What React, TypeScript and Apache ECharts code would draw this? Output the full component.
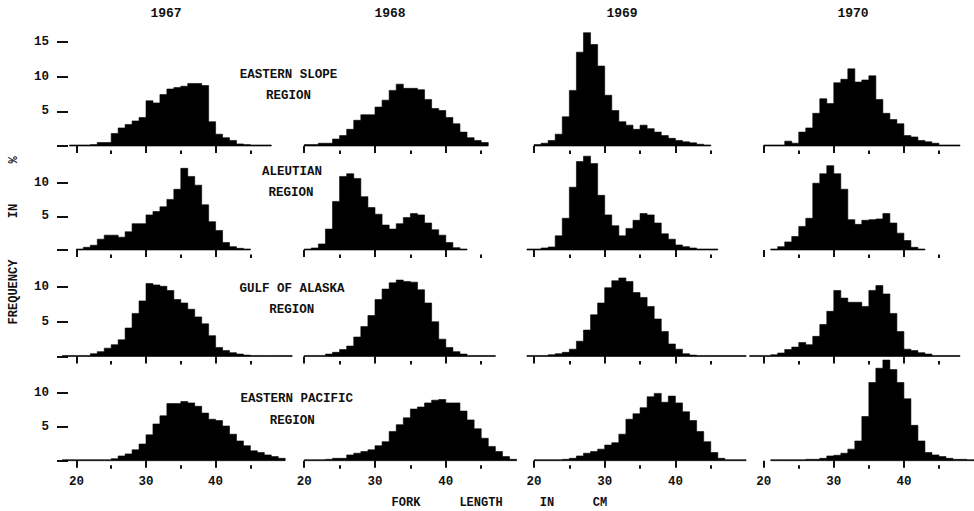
import { useEffect, useRef } from "react";
import * as echarts from "echarts";

// Column headings and region captions
const years = ["1967", "1968", "1969", "1970"];
const regionNames = [
  ["EASTERN SLOPE", "REGION"],
  ["ALEUTIAN", "REGION"],
  ["GULF OF ALASKA", "REGION"],
  ["EASTERN PACIFIC", "REGION"],
];

// Percent frequency per 1-cm fork-length class; *From is the lower edge (cm) of the first class.
const easternSlope1967From = 19;
const easternSlope1967 = [0.15, 0.15, 0.15, 0.2, 0.5, 0.5, 1.8, 2.6, 3.1, 3.6, 4.1, 6.5, 6.2, 7.4, 8.2, 8.4, 8.6, 9.0, 9.0, 8.7, 3.5, 1.7, 1.2, 0.8, 0.3, 0.2, 0.15, 0.15, 0.15];
const easternSlope1968From = 20;
const easternSlope1968 = [0.2, 0.2, 0.4, 0.4, 1.0, 1.5, 2.4, 3.7, 4.5, 4.5, 5.6, 6.6, 8.0, 8.9, 8.3, 8.3, 8.1, 6.7, 5.4, 5.1, 4.1, 3.2, 2.0, 1.2, 0.8, 0.5];
const easternSlope1969From = 20;
const easternSlope1969 = [0.2, 0.4, 0.8, 1.7, 4.2, 8.0, 13.5, 16.3, 14.6, 11.5, 7.3, 5.1, 3.5, 3.0, 2.4, 3.0, 2.5, 2.0, 1.5, 1.1, 0.8, 0.6, 0.45, 0.25, 0.15];
const easternSlope1970From = 20;
const easternSlope1970 = [0.15, 0.15, 0.15, 0.7, 0.4, 2.0, 2.6, 4.7, 6.8, 6.1, 9.1, 9.6, 11.1, 9.2, 9.5, 10.1, 6.7, 4.7, 3.8, 3.2, 1.5, 1.3, 0.8, 0.6, 0.4, 0.15, 0.15, 0.15];

const aleutian1967From = 20;
const aleutian1967 = [0.15, 0.4, 0.7, 1.6, 2.2, 2.2, 1.9, 2.7, 3.9, 3.9, 5.2, 5.7, 6.4, 7.5, 9.0, 12.1, 10.9, 9.6, 6.7, 4.2, 2.9, 1.1, 0.5, 0.25, 0.15];
const aleutian1968From = 20;
const aleutian1968 = [0.15, 0.3, 0.9, 3.1, 7.2, 10.9, 11.3, 10.6, 7.9, 6.3, 5.3, 3.7, 3.1, 3.9, 4.8, 5.4, 5.2, 4.0, 3.0, 2.2, 1.1, 0.35, 0.15];
const aleutian1969From = 19;
const aleutian1969 = [0.15, 0.15, 0.3, 0.45, 2.1, 4.7, 9.3, 13.1, 13.9, 12.8, 8.1, 5.2, 3.6, 2.1, 3.2, 4.4, 5.4, 5.2, 4.0, 2.4, 1.6, 0.75, 0.5, 0.3, 0.15, 0.15, 0.15];
const aleutian1970From = 21;
const aleutian1970 = [0.15, 0.5, 1.2, 2.0, 3.5, 4.7, 9.9, 11.3, 12.5, 11.3, 9.0, 4.5, 3.8, 4.4, 4.5, 4.6, 5.4, 4.0, 2.5, 1.4, 0.4, 0.15];

const gulfOfAlaska1967From = 18;
const gulfOfAlaska1967 = [0.15, 0.15, 0.15, 0.15, 0.4, 0.7, 1.2, 1.7, 2.4, 4.1, 6.2, 8.0, 10.5, 10.3, 10.1, 9.5, 8.2, 7.7, 6.8, 5.7, 4.7, 3.0, 1.3, 0.85, 0.55, 0.35, 0.2, 0.15, 0.15, 0.15, 0.15, 0.15, 0.15];
const gulfOfAlaska1968From = 20;
const gulfOfAlaska1968 = [0.15, 0.15, 0.15, 0.35, 0.6, 1.0, 1.5, 2.8, 4.3, 5.9, 8.2, 9.7, 10.6, 11.0, 10.8, 10.7, 9.6, 7.7, 5.0, 2.5, 1.3, 0.7, 0.35, 0.15, 0.15, 0.15, 0.15];
const gulfOfAlaska1969From = 19;
const gulfOfAlaska1969 = [0.15, 0.15, 0.15, 0.25, 0.4, 0.6, 1.05, 2.2, 3.8, 6.0, 7.7, 9.9, 10.9, 11.3, 10.8, 9.2, 8.5, 7.2, 5.4, 3.6, 1.8, 1.05, 0.4, 0.2, 0.15, 0.15, 0.15, 0.15, 0.15, 0.15, 0.15];
const gulfOfAlaska1970From = 18;
const gulfOfAlaska1970 = [0.15, 0.15, 0.15, 0.25, 0.5, 1.0, 1.35, 2.0, 1.7, 2.9, 4.6, 6.5, 9.5, 8.4, 7.8, 7.8, 7.2, 9.5, 10.2, 9.0, 6.2, 3.6, 1.05, 0.85, 0.55, 0.35, 0.15, 0.15, 0.15, 0.15];

const easternPacific1967From = 18;
const easternPacific1967 = [0.15, 0.15, 0.15, 0.15, 0.15, 0.15, 0.15, 0.3, 0.7, 1.0, 1.6, 2.45, 3.8, 5.4, 6.6, 8.4, 8.4, 8.7, 8.5, 8.0, 7.0, 6.1, 5.9, 5.1, 3.9, 2.9, 2.2, 1.45, 1.2, 0.85, 0.6, 0.35];
const easternPacific1968From = 20;
const easternPacific1968 = [0.15, 0.15, 0.15, 0.2, 0.35, 0.35, 0.85, 1.1, 1.35, 1.6, 2.2, 2.8, 4.3, 5.3, 6.3, 7.6, 7.9, 8.5, 8.9, 9.0, 8.5, 8.5, 7.3, 6.0, 4.7, 3.3, 2.1, 1.35, 0.6, 0.2];
const easternPacific1969From = 20;
const easternPacific1969 = [0.15, 0.15, 0.15, 0.15, 0.2, 0.35, 0.7, 1.1, 1.35, 1.7, 2.3, 2.65, 3.9, 6.1, 6.9, 7.8, 9.4, 9.9, 8.6, 9.5, 8.5, 7.2, 5.9, 4.3, 2.8, 1.2, 0.35, 0.15, 0.15, 0.15];
const easternPacific1970From = 21;
const easternPacific1970 = [0.15, 0.15, 0.15, 0.15, 0.15, 0.2, 0.2, 0.35, 0.7, 0.8, 1.1, 1.7, 2.9, 6.5, 11.5, 13.6, 14.8, 13.4, 11.5, 9.1, 5.2, 2.9, 1.2, 0.85, 0.6, 0.35, 0.2, 0.2, 0.15];

// Axis ticks (cm and percent)
const majorLengthTicks = [20, 30, 40];
const minorLengthTicks = [25, 35, 45];
const rowPercentTicks = [
  [0, 5, 10, 15],
  [0, 5, 10],
  [0, 5, 10],
  [0, 5, 10],
];
const rowPercentLabels = [
  [5, 10, 15],
  [5, 10],
  [5, 10],
  [5, 10],
];

const panels: [number, number[]][][] = [
  [
    [easternSlope1967From, easternSlope1967],
    [easternSlope1968From, easternSlope1968],
    [easternSlope1969From, easternSlope1969],
    [easternSlope1970From, easternSlope1970],
  ],
  [
    [aleutian1967From, aleutian1967],
    [aleutian1968From, aleutian1968],
    [aleutian1969From, aleutian1969],
    [aleutian1970From, aleutian1970],
  ],
  [
    [gulfOfAlaska1967From, gulfOfAlaska1967],
    [gulfOfAlaska1968From, gulfOfAlaska1968],
    [gulfOfAlaska1969From, gulfOfAlaska1969],
    [gulfOfAlaska1970From, gulfOfAlaska1970],
  ],
  [
    [easternPacific1967From, easternPacific1967],
    [easternPacific1968From, easternPacific1968],
    [easternPacific1969From, easternPacific1969],
    [easternPacific1970From, easternPacific1970],
  ],
];

// Layout
const W = 974;
const H = 511;
const X_MIN = 18;
const X_MAX = 51;
const colAt20 = [76.4, 304.2, 534, 763.7];
const colPxPerCm = [6.96, 7.08, 7.07, 7.01];
const rowBase = [146, 250, 356.5, 460.7];
const rowPxPerPct = [6.95, 6.75, 6.95, 6.8];
const rowMax = [17, 15, 13, 16];

const INK = "#111";
const MONO = "'Liberation Mono', 'DejaVu Sans Mono', monospace";

function buildOption() {
  const grid: any[] = [];
  const xAxis: any[] = [];
  const yAxis: any[] = [];
  const series: any[] = [];

  for (let r = 0; r < 4; r++) {
    for (let c = 0; c < 4; c++) {
      const i = r * 4 + c;
      const ppc = colPxPerCm[c];
      const h = rowPxPerPct[r] * rowMax[r];
      grid.push({
        left: colAt20[c] - (20 - X_MIN) * ppc,
        top: rowBase[r] - h,
        width: (X_MAX - X_MIN) * ppc,
        height: h,
        containLabel: false,
        outerBoundsMode: "none",
      });
      const common = {
        type: "value",
        gridIndex: i,
        min: X_MIN,
        max: X_MAX,
        position: "bottom",
        offset: 4.5,
        axisLine: { show: false },
        splitLine: { show: false },
      };
      xAxis.push({
        ...common,
        axisTick: {
          show: true,
          customValues: majorLengthTicks,
          length: 7,
          lineStyle: { color: INK, width: 2 },
        },
        axisLabel: {
          show: r === 3,
          customValues: majorLengthTicks,
          margin: 10,
          color: INK,
          fontFamily: MONO,
          fontWeight: "bold",
          fontSize: 12.5,
        },
      });
      xAxis.push({
        ...common,
        axisTick: {
          show: true,
          customValues: minorLengthTicks,
          length: 3.5,
          lineStyle: { color: INK, width: 2 },
        },
        axisLabel: { show: false },
      });
      yAxis.push({
        type: "value",
        gridIndex: i,
        min: 0,
        max: rowMax[r],
        show: c === 0,
        offset: -5.5,
        axisLine: { show: false },
        splitLine: { show: false },
        axisTick: {
          show: true,
          customValues: rowPercentTicks[r],
          length: 11,
          lineStyle: { color: INK, width: 2 },
        },
        axisLabel: {
          customValues: rowPercentLabels[r],
          margin: 19,
          color: INK,
          fontFamily: MONO,
          fontWeight: "bold",
          fontSize: 12.5,
        },
      });

      const [from, values] = panels[r][c];
      series.push({
        type: "custom",
        xAxisIndex: i * 2,
        yAxisIndex: i,
        clip: false,
        encode: { x: 0, y: 1 },
        data: values.map((v, k) => [from + k, v]),
        // The whole histogram is traced as one stepped outline (drawn with the
        // first class) so that adjoining classes form a single solid shape.
        renderItem: (params: any, api: any) => {
          if (params.dataIndex !== 0) return null;
          const n = values.length;
          const pts: number[][] = [api.coord([from, 0])];
          for (let k = 0; k < n; k++) {
            const lo = api.value(0, k);
            const v = api.value(1, k);
            pts.push(api.coord([lo, v]));
            pts.push(api.coord([lo + 1, v]));
          }
          pts.push(api.coord([from + n, 0]));
          return {
            type: "polygon",
            shape: { points: pts },
            style: { fill: "#000", stroke: "#000", lineWidth: 0.6, lineJoin: "miter" },
          };
        },
      });
    }
  }

  const textStyle = (text: string, size = 12) => ({
    text,
    fill: INK,
    fontFamily: MONO,
    fontWeight: "bold",
    fontSize: size,
    align: "center",
    verticalAlign: "middle",
  });

  const yearX = [166, 390, 622, 853];
  const captionPos = [
    [[288.5, 75], [288.5, 96]],
    [[292, 171.5], [291, 192.5]],
    [[292, 289.3], [291.7, 310]],
    [[296.7, 399.3], [292.3, 420.7]],
  ];

  const graphic: any[] = [];
  years.forEach((y, c) =>
    graphic.push({ type: "text", x: yearX[c], y: 13.5, style: textStyle(y, 13) })
  );
  regionNames.forEach((lines, r) =>
    lines.forEach((line, k) =>
      graphic.push({
        type: "text",
        x: captionPos[r][k][0],
        y: captionPos[r][k][1],
        style: textStyle(line, 12.5),
      })
    )
  );
  // Vertical axis title, reading bottom to top
  [
    ["FREQUENCY", 292],
    ["IN", 211],
    ["%", 160],
  ].forEach(([t, y]) =>
    graphic.push({
      type: "text",
      x: 14,
      y: y as number,
      rotation: Math.PI / 2,
      style: textStyle(t as string, 12),
    })
  );
  // Horizontal axis title
  [
    ["FORK", 406],
    ["LENGTH", 481],
    ["IN", 547],
    ["CM", 600],
  ].forEach(([t, x]) =>
    graphic.push({
      type: "text",
      x: x as number,
      y: 503,
      style: textStyle(t as string, 12),
    })
  );

  return {
    animation: false,
    backgroundColor: "#fff",
    grid,
    xAxis,
    yAxis,
    series,
    graphic,
  };
}

export default function App() {
  const ref = useRef<HTMLDivElement>(null);
  useEffect(() => {
    if (!ref.current) return;
    const chart = echarts.init(ref.current, undefined, { renderer: "svg" });
    chart.setOption(buildOption() as any);
    return () => chart.dispose();
  }, []);
  return (
    <div
      ref={ref}
      style={{ position: "fixed", left: 0, top: 0, width: W, height: H, background: "#fff" }}
    />
  );
}
